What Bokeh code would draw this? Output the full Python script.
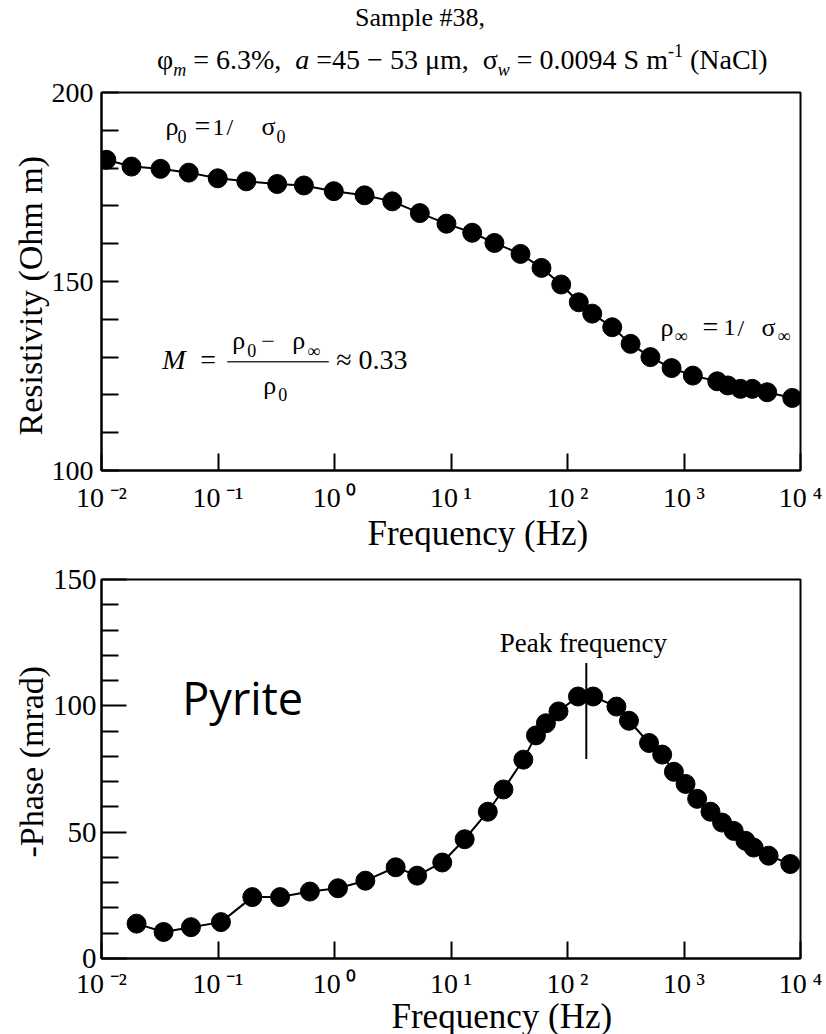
from bokeh.embed import file_html
from bokeh.layouts import column
from bokeh.models import (CustomJSTickFormatter, Div, FixedTicker, Label, Range1d, Title)
from bokeh.plotting import figure
from bokeh.resources import INLINE

SERIF = "Liberation Serif"

# Complex-conductivity spectrum of sample #38 (pyrite)
RES_FREQ_HZ = [0.0110, 0.0181, 0.0321, 0.0561, 0.0995, 0.175, 0.322, 0.546, 0.986,
               1.81, 3.13, 5.40, 9.14, 15.2, 23.6, 39.5, 59.8, 88.3, 125, 163, 242,
               348, 515, 782, 1191, 1928, 2377, 3055, 3855, 5176, 8492]
RES_OHM_M = [182.2, 180.4, 179.8, 178.8, 177.3, 176.5, 175.8, 175.4, 173.9, 172.8,
             171.2, 168.1, 165.3, 162.9, 160.2, 157.3, 153.6, 149.2, 144.5, 141.5,
             137.9, 133.5, 130.0, 127.1, 125.1, 123.6, 122.5, 121.6, 121.6, 120.7,
             119.2]

PHASE_FREQ_HZ = [0.0200, 0.0341, 0.0586, 0.106, 0.197, 0.341, 0.615, 1.07, 1.84,
                 3.35, 5.12, 8.41, 13.1, 20.7, 28.2, 41.8, 53.6, 65.3, 83.7, 123,
                 166, 263, 337, 501, 650, 819, 1031, 1296, 1688, 2122, 2672, 3365,
                 3962, 5326, 8166]
PHASE_MRAD = [13.8, 10.5, 12.4, 14.4, 24.3, 24.3, 26.5, 27.8, 30.8, 36.1, 32.8,
              38.0, 47.2, 58.1, 66.9, 78.7, 88.3, 93.1, 97.8, 103.7, 103.7, 99.7,
              94.1, 85.3, 80.7, 73.9, 69.1, 63.2, 58.1, 53.8, 50.5, 46.6, 43.9,
              40.7, 37.4]

PEAK_FREQ_HZ = 145
PEAK_MARK_MRAD = (79, 117)

DECADES = [-2, -1, 0, 1, 2, 3, 4]
RES_TICKS = [100, 150, 200]
PHASE_TICKS = [0, 50, 100, 150]

# log-axis labels written as 10 with a superscript exponent
POW10_LABEL = CustomJSTickFormatter(code="""
const e = Math.round(Math.log10(tick));
const sup = {"-": "\\u207B", "0": "\\u2070", "1": "\\u00B9", "2": "\\u00B2",
             "3": "\\u00B3", "4": "\\u2074"};
return "10\\u2009" + String(e).split("").map(c => sup[c]).join("");
""")

BASELINE_FIX = 0.38  # lift so the y coordinate sits on the text baseline


def base_figure(height, y_range, top, bottom, right, tick_size, standoff):
    p = figure(width=826, height=height, x_axis_type="log",
               x_range=Range1d(1e-2, 1e4), y_range=y_range,
               output_backend="svg", toolbar_location=None,
               min_border_left=101, min_border_right=right,
               min_border_top=top, min_border_bottom=bottom,
               background_fill_color="white", border_fill_color="white")
    p.grid.visible = False
    p.outline_line_color = "black"
    p.outline_line_width = 2
    for ax in (p.xaxis[0], p.yaxis[0]):
        ax.axis_line_color = "black"
        ax.axis_line_width = 2
        ax.major_tick_line_color = "black"
        ax.major_tick_line_width = 2
        ax.minor_tick_line_color = "black"
        ax.minor_tick_line_width = 2
        ax.major_tick_out = 0
        ax.minor_tick_out = 0
        ax.major_tick_in = 17
        ax.minor_tick_in = 17
        ax.major_label_text_font = SERIF
        ax.major_label_text_color = "black"
    p.xaxis.ticker = FixedTicker(ticks=[10.0 ** e for e in DECADES])
    p.xaxis.formatter = POW10_LABEL
    p.xaxis.minor_tick_line_color = None
    p.xaxis.major_label_text_font_size = "28px"
    p.xaxis.major_label_text_line_height = 1.0
    p.xaxis.major_label_standoff = standoff
    p.yaxis.major_label_text_font_size = tick_size
    return p


def axis_title(text, offset, size, standoff=0):
    return Title(text=text, align="left", offset=offset, standoff=standoff,
                 text_font=SERIF, text_font_size=f"{size}px", text_font_style="normal",
                 text_color="black", text_line_height=1.0)


def text_label(x, y, text, size, dx=0, dy=0, font=SERIF, style="normal", align="left"):
    return Label(x=x, y=y, x_offset=dx, y_offset=dy + BASELINE_FIX * size, text=text,
                 text_font=font, text_font_size=f"{size}px", text_font_style=style,
                 text_color="black", text_align=align, text_baseline="alphabetic")


def add_runs(p, x, y, pieces):
    """Place a formula as a row of text runs (text, dx px, dy px, size px, style)."""
    for text, dx, dy, size, style in pieces:
        p.add_layout(text_label(x, y, text, size, dx, dy, style=style))


# ---- title ----
sub = "font-size:18px;font-style:italic;position:relative;top:7px"
sup = "font-size:18px;position:relative;top:-12px"
title_html = (
    f'<div style="position:relative;width:826px;height:75px;font-family:\'{SERIF}\';'
    'color:#000;line-height:1;white-space:nowrap">'
    '<div style="position:absolute;left:355px;top:5px;font-size:26px">Sample #38,</div>'
    '<div style="position:absolute;left:157px;top:46px;font-size:28px">'
    f'φ<span style="{sub}">m</span> = 6.3%,&nbsp; <i>a</i> =45 − 53 μm,&nbsp; '
    f'σ<span style="{sub}">w</span> = 0.0094 S m<span style="{sup}">-1</span> (NaCl)'
    '</div></div>'
)
title = Div(text=title_html, width=826, height=75, margin=0)

# ---- resistivity panel ----
p1 = base_figure(477, Range1d(100, 200), top=17, bottom=82, right=26,
                 tick_size="28px", standoff=11)
p1.yaxis.ticker = FixedTicker(ticks=RES_TICKS,
                              minor_ticks=[v for v in range(100, 201, 10) if v not in RES_TICKS])
p1.yaxis.major_label_standoff = 8
p1.add_layout(axis_title("Frequency (Hz)", 266, 35, standoff=-8), "below")
p1.add_layout(axis_title("Resistivity (Ohm m)", 35, 34), "left")

p1.line(RES_FREQ_HZ, RES_OHM_M, line_color="black", line_width=2)
p1.scatter(RES_FREQ_HZ, RES_OHM_M, size=19, fill_color="black", line_color="black")

# rho_0 = 1 / sigma_0
add_runs(p1, 0.0354, 188.4, [
    ("ρ", 0, 0, 26, "normal"), ("0", 12, -7, 18, "normal"),
    ("=", 29, 0, 28, "normal"), ("1", 47, 0, 24, "normal"), ("/", 61, 0, 24, "normal"),
    ("σ", 96, 0, 26, "normal"), ("0", 111, -7, 18, "normal"),
])
# rho_inf = 1 / sigma_inf
add_runs(p1, 628, 135.3, [
    ("ρ", 0, 0, 26, "normal"), ("∞", 14, -6, 18, "normal"),
    ("=", 42, 0, 28, "normal"), ("1", 63, 0, 24, "normal"), ("/", 77, 0, 24, "normal"),
    ("σ", 101, 0, 26, "normal"), ("∞", 117, -6, 18, "normal"),
])
# chargeability M = (rho_0 - rho_inf) / rho_0
add_runs(p1, 0.0332, 126.5, [
    ("M", 0, 0, 28, "italic"), ("=", 38, 0, 28, "normal"),
    ("ρ", 70, 20, 26, "normal"), ("0", 85, 13, 18, "normal"),
    ("−", 99, 20, 24, "normal"),
    ("ρ", 130, 20, 26, "normal"), ("∞", 145, 12, 18, "normal"),
    ("ρ", 101, -25, 26, "normal"), ("0", 116, -31, 18, "normal"),
    ("≈ 0.33", 174, 0, 28, "normal"),
])
p1.segment(x0=[0.12], y0=[128.8], x1=[0.893], y1=[128.8], line_color="#333333", line_width=1.5)

# ---- phase panel ----
p2 = base_figure(482, Range1d(0, 150), top=27, bottom=76, right=24,
                 tick_size="29px", standoff=9)
p2.yaxis.ticker = FixedTicker(ticks=PHASE_TICKS,
                              minor_ticks=[v for v in range(0, 151, 10) if v not in PHASE_TICKS])
p2.yaxis.major_tick_in = 25
p2.yaxis.major_label_standoff = 5
p2.add_layout(axis_title("Frequency (Hz)", 290, 35, standoff=-14), "below")
p2.add_layout(axis_title("-Phase (mrad)", 101, 34), "left")

p2.line(PHASE_FREQ_HZ, PHASE_MRAD, line_color="black", line_width=2)
p2.scatter(PHASE_FREQ_HZ, PHASE_MRAD, size=19, fill_color="black", line_color="black")
p2.segment(x0=[PEAK_FREQ_HZ], y0=[PEAK_MARK_MRAD[0]], x1=[PEAK_FREQ_HZ], y1=[PEAK_MARK_MRAD[1]],
           line_color="black", line_width=2)

p2.add_layout(text_label(PEAK_FREQ_HZ, 121, "Peak frequency", 27, dx=-3, align="center"))
p2.add_layout(text_label(0.0524, 96.6, "Pyrite", 45, dx=-3, font="Open Sans"))

layout = column(title, p1, p2, spacing=0)
open("out.html", "w").write(file_html(layout, INLINE))
